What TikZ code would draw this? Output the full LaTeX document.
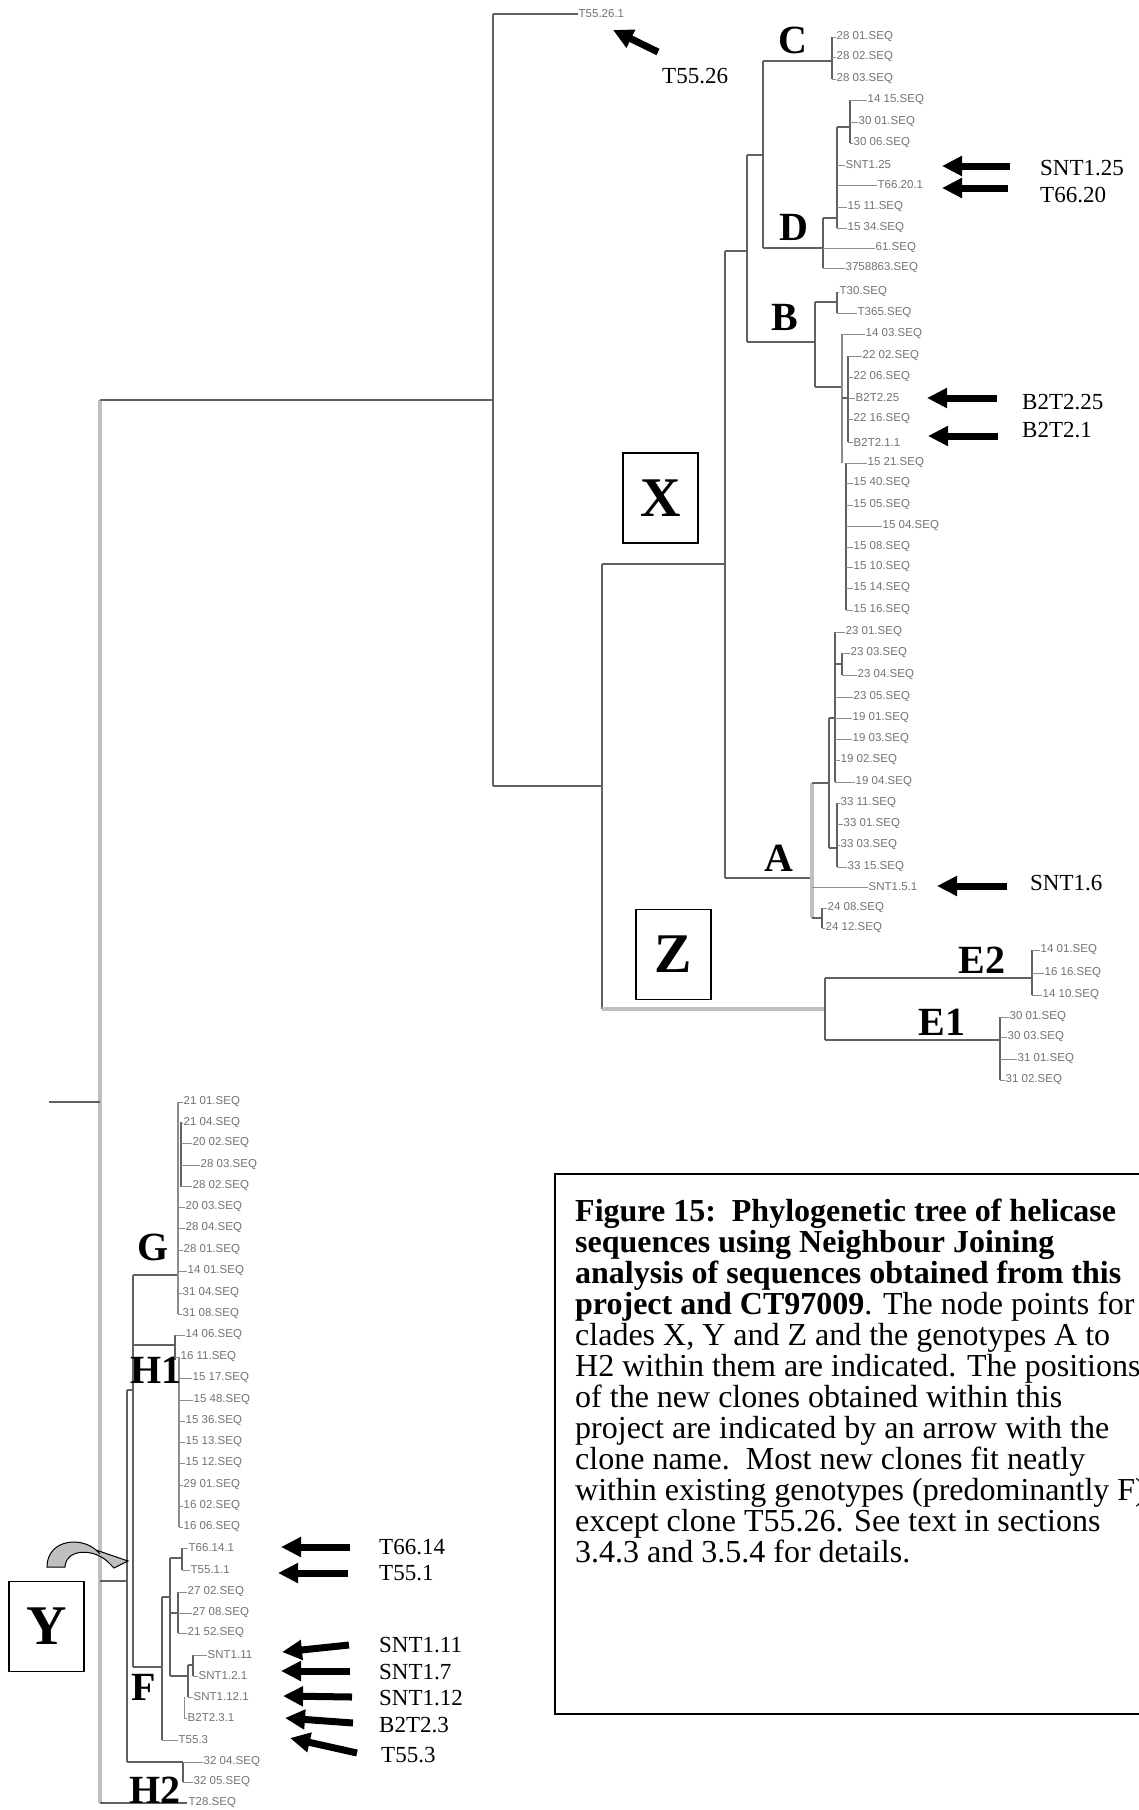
\documentclass[tikz,border=0pt]{standalone}
\usepackage{fontspec}
\setmainfont{Liberation Serif}
\newfontfamily\lfsans{Liberation Sans}
\usetikzlibrary{arrows.meta}
\newcommand{\lffont}{\lfsans\fontsize{11.5}{12}\selectfont}
\newcommand{\cladefont}{\bfseries\fontsize{40}{44}\selectfont}
\newcommand{\boxfont}{\bfseries\fontsize{56}{60}\selectfont}
\newcommand{\clonefont}{\fontsize{23}{26}\selectfont}
\newcommand{\capfont}{\fontsize{32}{34}\selectfont}
\newcommand{\tleaf}[4]{\draw[lfline] (#2,#1) -- (#3,#1); \node[lflab] (L#1x#3) at (#3,#1) {#4};}
\newcommand{\clonearrow}[5]{\coordinate (#1s) at (#2); \coordinate (#1e) at (#3); \draw[clonearr] (#1s) -- (#1e); \node[clonelab] (#1) at (#4) {#5};}
\tikzset{
 br/.style={draw=black!62, line width=1.8pt},
 brl/.style={draw=black!25, line width=3.2pt},
 lfline/.style={draw=black!45, line width=1pt},
 lflab/.style={anchor=west, inner sep=0.5pt, text=black!55, font=\lffont},
 clade/.style={font=\cladefont, inner sep=0},
 clbox/.style={draw, line width=1.6pt, minimum width=75pt, minimum height=90pt, inner sep=0, font=\boxfont},
 clonearr/.style={line width=7pt, -{Triangle[length=20pt,width=19pt]}},
 clonelab/.style={anchor=west, inner sep=0, font=\clonefont},
 captxt/.style={anchor=base west, inner sep=0, font=\capfont},
}
\begin{document}
\begin{tikzpicture}[x=1pt,y=-1pt]
\useasboundingbox (0,0) rectangle (1139,1810);
\clip (0,0) rectangle (1139,1810);
\fill[white] (0,0) rectangle (1139,1810);

% ---------------- main backbone
\draw[brl] (100,400) -- (100,1803);
\draw[br] (49,1102) -- (100,1102);
\draw[br] (100,400) -- (493,400);
\draw[br] (493,14) -- (493,786);
\draw[br] (493,14) -- (578,14);
\node[lflab] (L14) at (578,14) {T55.26.1};
\draw[br] (493,786) -- (602,786);
\draw[br] (602,564) -- (602,1009);
\draw[br] (602,564) -- (725,564);
\draw[brl] (602,1009) -- (825,1009);
\draw[br] (725,251) -- (725,878);
\draw[br] (725,251) -- (747,251);
\draw[br] (747,155) -- (747,342);
\draw[br] (747,155) -- (763,155);
\draw[br] (763,61) -- (763,248);
\draw[br] (763,61) -- (832,61);

% ---------------- C
\draw[br] (832,37) -- (832,79);
\tleaf{37}{832}{836}{28 01.SEQ}
\tleaf{57}{832}{836}{28 02.SEQ}
\tleaf{79}{832}{836}{28 03.SEQ}

% ---------------- D
\draw[br] (763,248) -- (823,248);
\draw[br] (823,218) -- (823,268);
\tleaf{248}{823}{875}{61.SEQ}
\tleaf{268}{823}{845}{3758863.SEQ}
\draw[br] (823,218) -- (837,218);
\draw[br] (837,127) -- (837,228);
\tleaf{165}{837}{845}{SNT1.25}
\tleaf{185}{837}{877}{T66.20.1}
\tleaf{207}{837}{847}{15 11.SEQ}
\tleaf{228}{837}{847}{15 34.SEQ}
\draw[br] (837,127) -- (850,127);
\draw[br] (850,100) -- (850,143);
\tleaf{100}{850}{867}{14 15.SEQ}
\tleaf{122}{850}{858}{30 01.SEQ}
\tleaf{143}{850}{853}{30 06.SEQ}

% ---------------- B
\draw[br] (747,342) -- (815,342);
\draw[br] (815,302) -- (815,387);
\draw[br] (815,302) -- (837,302);
\draw[br] (837,292) -- (837,313);
\tleaf{292}{837}{839}{T30.SEQ}
\tleaf{313}{837}{857}{T365.SEQ}
\draw[br] (815,387) -- (842,387);
\draw[lfline, line width=2pt] (842,334) -- (842,463);
\tleaf{334}{842}{865}{14 03.SEQ}
\draw[br] (842,398) -- (848,398);
\draw[br] (848,356) -- (848,442);
\tleaf{356}{848}{862}{22 02.SEQ}
\tleaf{377}{848}{853}{22 06.SEQ}
\tleaf{398}{848}{855}{B2T2.25}
\tleaf{419}{848}{853}{22 16.SEQ}
\tleaf{442}{848}{853}{B2T2.1.1}
\draw[br] (846,463) -- (846,610);
\tleaf{463}{846}{867}{15 21.SEQ}
\tleaf{483}{846}{853}{15 40.SEQ}
\tleaf{505}{846}{853}{15 05.SEQ}
\tleaf{526}{846}{882}{15 04.SEQ}
\tleaf{547}{846}{853}{15 08.SEQ}
\tleaf{567}{846}{853}{15 10.SEQ}
\tleaf{588}{846}{853}{15 14.SEQ}
\tleaf{610}{846}{853}{15 16.SEQ}

% ---------------- A
\draw[br] (725,878) -- (812,878);
\draw[brl] (812,783) -- (812,918);
\draw[br] (812,783) -- (829,783);
\draw[br] (829,718) -- (829,848);
\draw[br] (829,718) -- (835,718);
\draw[br] (835,632) -- (835,782);
\tleaf{632}{835}{845}{23 01.SEQ}
\draw[br] (835,664) -- (842,664);
\draw[br] (842,653) -- (842,675);
\tleaf{653}{842}{850}{23 03.SEQ}
\tleaf{675}{842}{857}{23 04.SEQ}
\tleaf{697}{835}{853}{23 05.SEQ}
\tleaf{718}{835}{852}{19 01.SEQ}
\tleaf{739}{835}{852}{19 03.SEQ}
\tleaf{760}{835}{840}{19 02.SEQ}
\tleaf{782}{835}{855}{19 04.SEQ}
\draw[br] (829,848) -- (837,848);
\draw[br] (837,803) -- (837,867);
\tleaf{803}{837}{840}{33 11.SEQ}
\tleaf{824}{837}{843}{33 01.SEQ}
\tleaf{845}{837}{840}{33 03.SEQ}
\tleaf{867}{837}{847}{33 15.SEQ}
\tleaf{887}{812}{868}{SNT1.5.1}
\draw[br] (812,918) -- (822,918);
\draw[br] (822,908) -- (822,928);
\tleaf{908}{822}{827}{24 08.SEQ}
\tleaf{928}{822}{825}{24 12.SEQ}

% ---------------- E
\draw[br] (825,978) -- (825,1040);
\draw[br] (825,978) -- (1032,978);
\draw[br] (1032,950) -- (1032,995);
\tleaf{950}{1032}{1040}{14 01.SEQ}
\tleaf{973}{1032}{1044}{16 16.SEQ}
\tleaf{995}{1032}{1042}{14 10.SEQ}
\draw[br] (825,1040) -- (1000,1040);
\draw[br] (1000,1017) -- (1000,1080);
\tleaf{1017}{1000}{1009}{30 01.SEQ}
\tleaf{1037}{1000}{1007}{30 03.SEQ}
\tleaf{1059}{1000}{1017}{31 01.SEQ}
\tleaf{1080}{1000}{1005}{31 02.SEQ}

% ---------------- Y clade
\draw[br] (100,1581) -- (127,1581);
\draw[br] (127,1390) -- (127,1762);
\draw[br] (127,1390) -- (133,1390);
\draw[br] (133,1275) -- (133,1667);
% G
\draw[br] (133,1275) -- (178,1275);
\draw[lfline, line width=2pt] (178,1102) -- (178,1314);
\draw[br] (181,1122) -- (181,1187);
\tleaf{1102}{178}{183}{21 01.SEQ}
\tleaf{1123}{181}{183}{21 04.SEQ}
\tleaf{1143}{181}{192}{20 02.SEQ}
\tleaf{1165}{181}{200}{28 03.SEQ}
\tleaf{1186}{181}{192}{28 02.SEQ}
\tleaf{1207}{178}{185}{20 03.SEQ}
\tleaf{1228}{178}{185}{28 04.SEQ}
\tleaf{1250}{178}{183}{28 01.SEQ}
\tleaf{1271}{178}{187}{14 01.SEQ}
\tleaf{1293}{178}{182}{31 04.SEQ}
\tleaf{1314}{178}{182}{31 08.SEQ}
% H1
\draw[br] (133,1345) -- (175,1345);
\draw[br] (175,1335) -- (175,1360);
\draw[lfline, line width=2pt] (179,1357) -- (179,1527);
\tleaf{1335}{175}{185}{14 06.SEQ}
\tleaf{1357}{175}{180}{16 11.SEQ}
\tleaf{1378}{179}{192}{15 17.SEQ}
\tleaf{1400}{179}{193}{15 48.SEQ}
\tleaf{1421}{179}{185}{15 36.SEQ}
\tleaf{1442}{179}{185}{15 13.SEQ}
\tleaf{1463}{179}{185}{15 12.SEQ}
\tleaf{1485}{179}{183}{29 01.SEQ}
\tleaf{1506}{179}{183}{16 02.SEQ}
\tleaf{1527}{179}{183}{16 06.SEQ}
% F
\draw[br] (133,1667) -- (162,1667);
\draw[br] (162,1597) -- (162,1740);
\draw[br] (162,1597) -- (170,1597);
\draw[br] (170,1558) -- (170,1676);
\draw[br] (170,1558) -- (182,1558);
\draw[br] (182,1548) -- (182,1570);
\tleaf{1548}{182}{188}{T66.14.1}
\tleaf{1570}{182}{190}{T55.1.1}
\draw[br] (170,1613) -- (178,1613);
\draw[br] (178,1592) -- (178,1633);
\tleaf{1592}{178}{187}{27 02.SEQ}
\tleaf{1613}{178}{192}{27 08.SEQ}
\tleaf{1633}{178}{187}{21 52.SEQ}
\draw[br] (170,1676) -- (188,1676);
\draw[br] (188,1665) -- (188,1697);
\draw[br] (188,1665) -- (193,1665);
\draw[br] (193,1655) -- (193,1676);
\tleaf{1655}{193}{207}{SNT1.11}
\tleaf{1676}{193}{198}{SNT1.2.1}
\tleaf{1697}{188}{193}{SNT1.12.1}
\draw[lfline] (184,1697) -- (184,1718);
\tleaf{1718}{184}{187}{B2T2.3.1}
\tleaf{1740}{162}{178}{T55.3}
% H2
\draw[br] (127,1762) -- (183,1762);
\draw[br] (183,1762) -- (183,1782);
\tleaf{1762}{183}{203}{32 04.SEQ}
\tleaf{1782}{183}{193}{32 05.SEQ}
\draw[br] (100,1803) -- (187,1803);
\node[lflab] (L1803) at (188,1803) {T28.SEQ};

% ---------------- clade letters
\node[clade] (cC) at (793,40) {C};
\node[clade] (cD) at (794,227) {D};
\node[clade] (cB) at (785,317) {B};
\node[clade] (cA) at (779,858) {A};
\node[clade] (cE2) at (982,960) {E2};
\node[clade] (cE1) at (942,1022) {E1};
\node[clade] (cG) at (153,1247) {G};
\node[clade] (cH1) at (156,1370) {H1};
\node[clade] (cF) at (144,1687) {F};
\node[clade] (cH2) at (155,1790) {H2};

% ---------------- clade boxes
\node[clbox] (bX) at (660.5,498) {X};
\node[clbox] (bZ) at (673.5,954.5) {Z};
\node[clbox] (bY) at (46.5,1626.5) {Y};

% curved pointer next to Y
\filldraw[fill=black!25, draw=black, line width=1pt]
 (47,1567) .. controls (47,1538) and (85,1535) .. (100,1554) -- (96,1550) -- (128,1561) -- (114,1568) -- (109,1563) .. controls (95,1548) and (66,1548) .. (65,1567) -- cycle;

% ---------------- clone arrows
\clonearrow{a1}{658,52}{613,30}{662,76}{T55.26}
\clonearrow{a2}{1010,166}{942,166}{1040,168}{SNT1.25}
\clonearrow{a3}{1008,188}{942,188}{1040,195}{T66.20}
\clonearrow{a4}{997,398}{927,398}{1022,402}{B2T2.25}
\clonearrow{a5}{998,436}{928,436}{1022,430}{B2T2.1}
\clonearrow{a6}{1007,886}{937,886}{1030,883}{SNT1.6}
\clonearrow{a7}{350,1547}{281,1547}{379,1547}{T66.14}
\clonearrow{a8}{348,1573}{278,1573}{379,1573}{T55.1}
\clonearrow{a9}{349,1645}{282,1652}{379,1645}{SNT1.11}
\clonearrow{a10}{350,1671}{281,1671}{379,1672}{SNT1.7}
\clonearrow{a11}{352,1697}{283,1696}{379,1698}{SNT1.12}
\clonearrow{a12}{353,1723}{285,1718}{379,1725}{B2T2.3}
\clonearrow{a13}{357,1753}{290,1738}{381,1755}{T55.3}

% ---------------- caption
\draw[line width=1.5pt] (1160,1174) -- (555,1174) -- (555,1714) -- (1160,1714);
\node[captxt] (cap1) at (575,1221) {\textbf{Figure 15:\ \ Phylogenetic tree of helicase}};
\node[captxt] (cap2) at (575,1252) {\textbf{sequences using Neighbour Joining}};
\node[captxt] (cap3) at (575,1283) {\textbf{analysis of sequences obtained from this}};
\node[captxt] (cap4) at (575,1314) {\textbf{project and CT97009}. The node points for};
\node[captxt] (cap5) at (575,1345) {clades X, Y and Z and the genotypes A to};
\node[captxt] (cap6) at (575,1376) {H2 within them are indicated. The positions};
\node[captxt] (cap7) at (575,1407) {of the new clones obtained within this};
\node[captxt] (cap8) at (575,1438) {project are indicated by an arrow with the};
\node[captxt] (cap9) at (575,1469) {clone name.\ \ Most new clones fit neatly};
\node[captxt] (cap10) at (575,1500) {within existing genotypes (predominantly F)};
\node[captxt] (cap11) at (575,1531) {except clone T55.26. See text in sections};
\node[captxt] (cap12) at (575,1562) {3.4.3 and 3.5.4 for details.};
\end{tikzpicture}
\end{document}
